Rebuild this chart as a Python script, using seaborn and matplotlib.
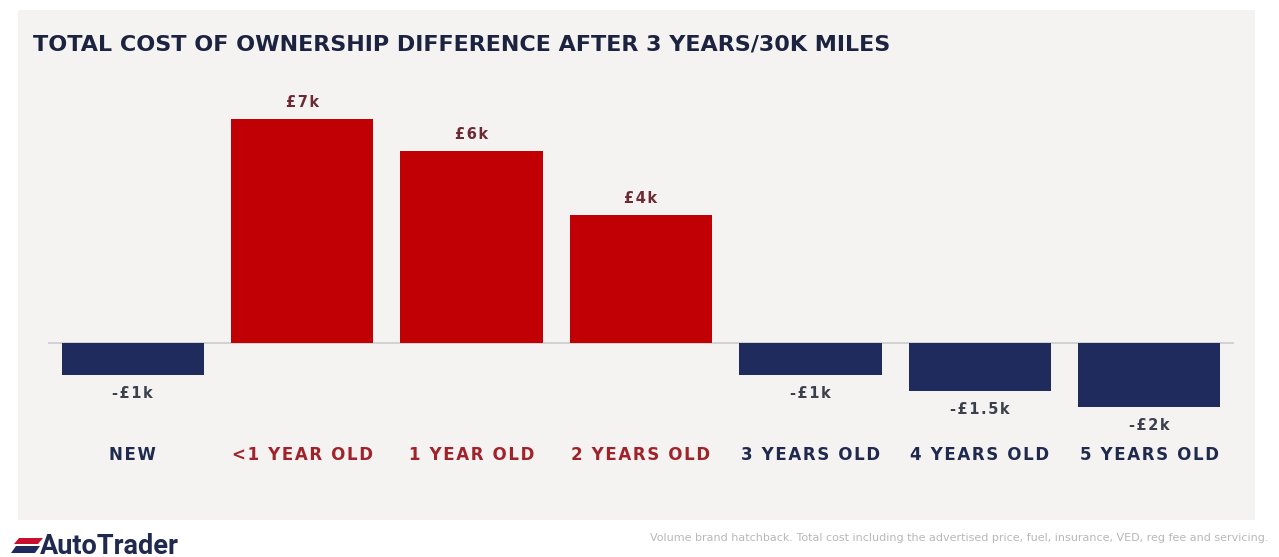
import matplotlib
matplotlib.use("Agg")
import matplotlib.pyplot as plt
import matplotlib.patches as mpatches
import matplotlib.transforms as mtrans
import seaborn as sns
import pandas as pd

# Chart data
categories = ["NEW", "<1 YEAR OLD", "1 YEAR OLD", "2 YEARS OLD",
              "3 YEARS OLD", "4 YEARS OLD", "5 YEARS OLD"]
values_k = [-1, 7, 6, 4, -1, -1.5, -2]
value_labels = ["-£1k", "£7k", "£6k", "£4k", "-£1k", "-£1.5k", "-£2k"]

RED = "#c10005"
NAVY = "#1f2b5c"
RED_TEXT = "#a0232c"
NAVY_TEXT = "#1f2a4e"
POS_VAL = "#6e2a33"
NEG_VAL = "#3c404c"
PANEL = "#f4f3f1"

sns.set_theme(style="white")
plt.rcParams["font.family"] = ["DejaVu Sans"]

fig = plt.figure(figsize=(12.79, 5.57), dpi=100)
fig.patch.set_facecolor("white")

W, H = 1279, 557
def fx(px):
    return px / W
def fy(py):
    return 1 - py / H

def spaced(s):
    # widen the tracking of a label with hair spaces between letters
    return "\u200a".join(s)

# light panel behind the chart
fig.patches.append(mpatches.Rectangle((fx(18), fy(520)), fx(1255) - fx(18), fy(10) - fy(520),
                                      transform=fig.transFigure, facecolor=PANEL,
                                      edgecolor="none", zorder=-5))

ax = fig.add_axes([fx(48), fy(471), fx(1234) - fx(48), (471 - 87) / H])
ax.set_facecolor("none")
ax.set_zorder(2)

df = pd.DataFrame({"category": categories, "value": values_k,
                   "sign": ["pos" if v > 0 else "neg" for v in values_k]})
sns.barplot(data=df, x="category", y="value", hue="sign",
            palette={"pos": RED, "neg": NAVY}, dodge=False, width=0.84,
            legend=False, ax=ax, saturation=1, linewidth=0)

ax.set_xlim(-0.5, 6.5)
ax.set_ylim(-4, 8)
ax.axhline(0, color="#d2d2d2", lw=1.4, zorder=0.5)
for s in ax.spines.values():
    s.set_visible(False)
ax.set_xticks([])
ax.set_yticks([])
ax.set_xlabel("")
ax.set_ylabel("")

# value labels
for i, (v, lab) in enumerate(zip(values_k, value_labels)):
    if v > 0:
        ax.annotate(spaced(lab), (i, v), xytext=(0, 12), textcoords="offset points",
                    ha="center", va="center", fontsize=10.5, fontweight="bold",
                    color=POS_VAL)
    else:
        ax.annotate(spaced(lab), (i, v), xytext=(0, -13), textcoords="offset points",
                    ha="center", va="center", fontsize=10.5, fontweight="bold",
                    color=NEG_VAL)

# category labels
trans = mtrans.blended_transform_factory(ax.transData, fig.transFigure)
for i, (c, v) in enumerate(zip(categories, values_k)):
    ax.text(i, fy(455), spaced(c), transform=trans, ha="center", va="center",
            fontsize=12, fontweight="bold", color=RED_TEXT if v > 0 else NAVY_TEXT)

# title
fig.text(fx(33), fy(45), "TOTAL COST OF OWNERSHIP DIFFERENCE AFTER 3 YEARS/30K MILES",
         ha="left", va="center", fontsize=16, fontweight="bold", color="#1c2340")

# brand mark
def slant(x0, y0, w, h, color):
    sk = 5
    pts = [(fx(x0 + sk), fy(y0)), (fx(x0 + w + sk), fy(y0)),
           (fx(x0 + w), fy(y0 + h)), (fx(x0), fy(y0 + h))]
    fig.patches.append(mpatches.Polygon(pts, closed=True, transform=fig.transFigure,
                                        facecolor=color, edgecolor="none"))
slant(14, 538, 24, 6, "#c8102e")
slant(11, 546, 24, 7, NAVY)
fig.text(fx(40), fy(546), "AutoTrader", ha="left", va="center", fontsize=19.5,
         fontweight="bold", color="#1f2a4e", family="Roboto")

# footnote
fig.text(fx(1268), fy(538),
         "Volume brand hatchback. Total cost including the advertised price, fuel, insurance, VED, reg fee and servicing.",
         ha="right", va="center", fontsize=8.0, color="#b8b8b8")

fig.savefig("out.png", dpi=100, facecolor="white")
